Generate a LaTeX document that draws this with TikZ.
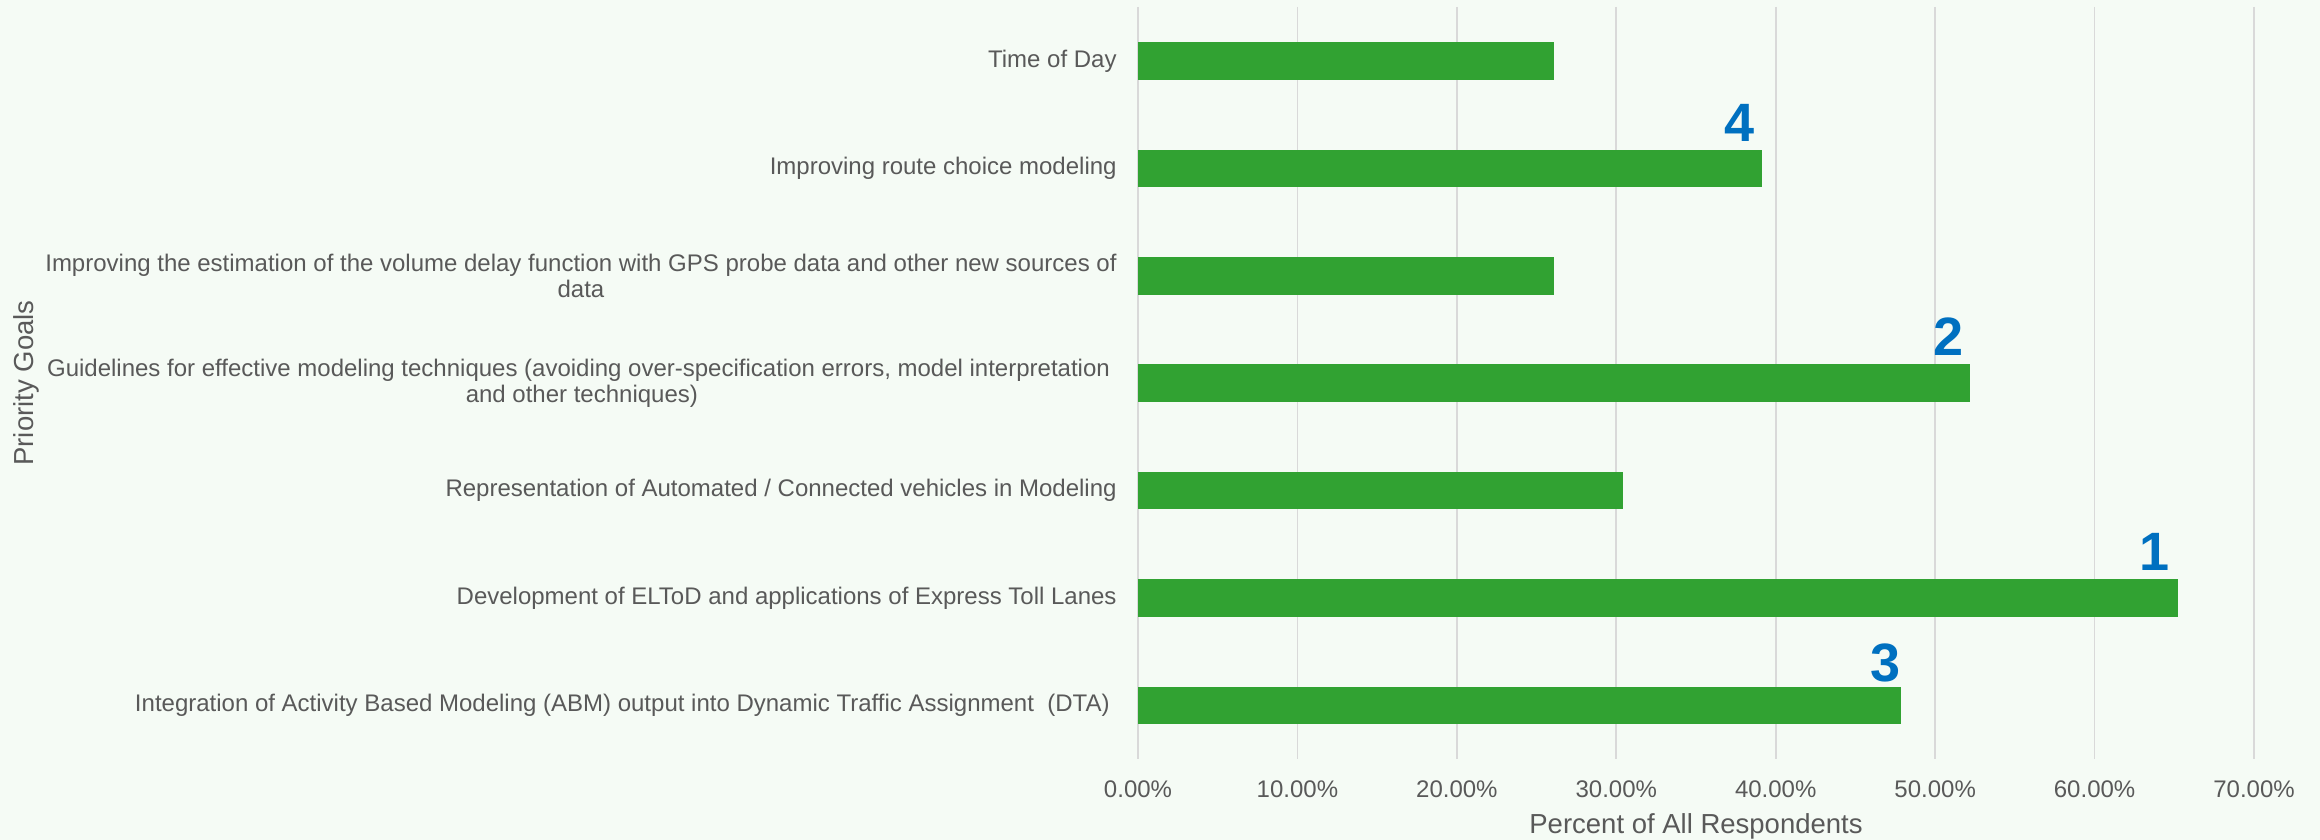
\documentclass[tikz,border=0pt]{standalone}
\usepackage{fontspec}
\setmainfont{Liberation Sans}
\definecolor{bg}{HTML}{F5FBF5}
\definecolor{bargreen}{HTML}{31A232}
\definecolor{rankblue}{HTML}{0070C0}
\definecolor{txtgray}{HTML}{595959}
\definecolor{gridgray}{HTML}{D9D9D9}
\begin{document}
\begin{tikzpicture}[x=0.5pt,y=-0.5pt,
  catlabel/.style={anchor=east, inner sep=0pt, align=center, text=txtgray, font=\fontsize{12}{12.75}\selectfont},
  ticklabel/.style={anchor=base, inner sep=0pt, text=txtgray, font=\fontsize{12}{14}\selectfont},
  axtitle/.style={anchor=base, inner sep=0pt, text=txtgray, font=\fontsize{13.75}{16}\selectfont},
  rank/.style={anchor=base, inner sep=0pt, text=rankblue, font=\fontsize{27}{30}\selectfont\bfseries},
  barbox/.style={fill=bargreen, draw=none},
  gridline/.style={draw=gridgray, line width=0.85pt}]
\fill[bg] (0,0) rectangle (2320,840);
\useasboundingbox (0,0) rectangle (2320,840);
% gridlines
\foreach \k in {0,...,7}{
  \coordinate (gt\k) at ({1138+\k*159.43},7);
  \coordinate (gb\k) at ({1138+\k*159.43},759);
  \draw[gridline] (gt\k) -- (gb\k);
}
% bars
\foreach \v/\i in {26.087/0, 39.130/1, 26.087/2, 52.174/3, 30.435/4, 65.217/5, 47.826/6}{
  \fill[barbox] (1138,{61+\i*107.4-18.8}) rectangle ({1138+\v*15.943},{61+\i*107.4+18.8});
}
% category labels
\node[catlabel] (c0) at (1117,61) {Time of Day};
\node[catlabel] (c1) at (1117,168.4) {Improving route choice modeling};
\node[catlabel] (c2) at (1117,275.8) {Improving the estimation of the volume delay function with GPS probe data and other new sources of\\data};
\node[catlabel] (c3) at (1117,383.2) {Guidelines for effective modeling techniques (avoiding over-specification errors, model interpretation\hspace*{3.35pt}\\and other techniques)};
\node[catlabel] (c4) at (1117,490.6) {Representation of Automated / Connected vehicles in Modeling};
\node[catlabel] (c5) at (1117,598) {Development of ELToD and applications of Express Toll Lanes};
\node[catlabel] (c6) at (1110,705.4) {Integration of Activity Based Modeling (ABM) output into Dynamic Traffic Assignment\ \ (DTA)};
% tick labels
\foreach \k/\t in {0/0.00, 1/10.00, 2/20.00, 3/30.00, 4/40.00, 5/50.00, 6/60.00, 7/70.00}{
  \node[ticklabel] (t\k) at ({1138+\k*159.43},797) {\t\%};
}
% axis titles
\node[axtitle] (xtitle) at (1696,833) {Percent of All Respondents};
\node[axtitle, rotate=90] (ytitle) at (33,383) {Priority Goals};
% rank labels
\node[rank] (r4) at (1739.5,141) {4};
\node[rank] (r2) at (1948.5,355) {2};
\node[rank] (r1) at (2154,570) {1};
\node[rank] (r3) at (1885.5,681) {3};
\end{tikzpicture}
\end{document}
